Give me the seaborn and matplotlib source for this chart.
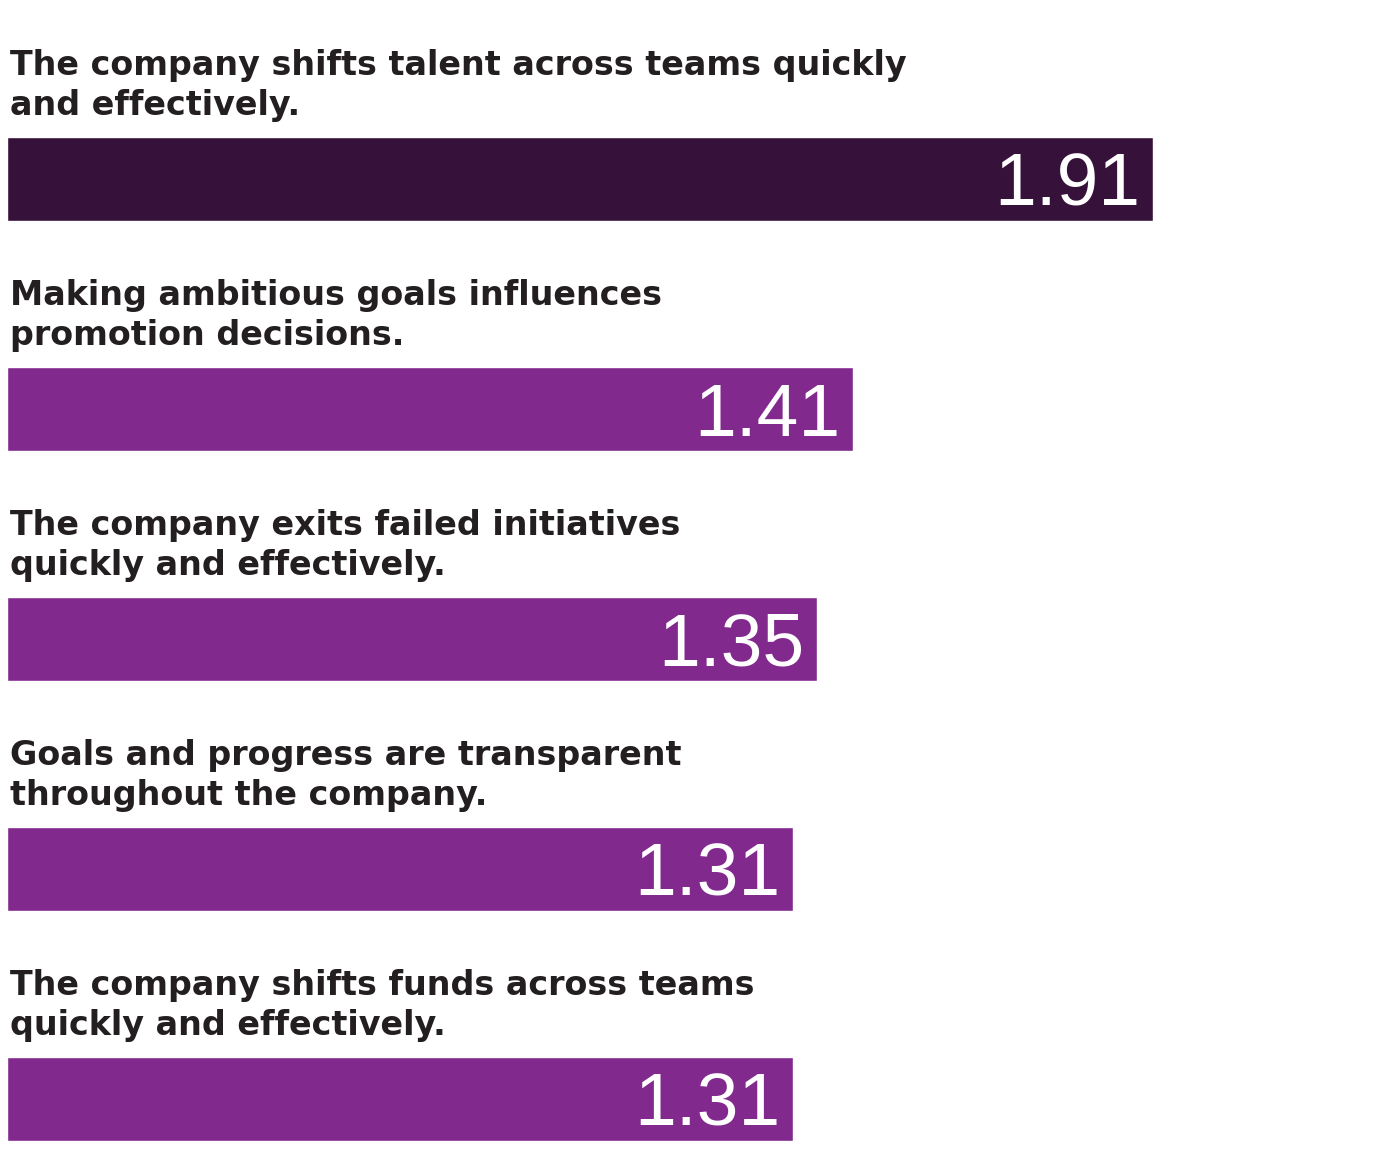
import matplotlib
matplotlib.use("Agg")
import matplotlib.pyplot as plt
import seaborn as sns
import pandas as pd

labels = [
    "The company shifts talent across teams quickly\nand effectively.",
    "Making ambitious goals influences\npromotion decisions.",
    "The company exits failed initiatives\nquickly and effectively.",
    "Goals and progress are transparent\nthroughout the company.",
    "The company shifts funds across teams\nquickly and effectively.",
]
values = [1.91, 1.41, 1.35, 1.31, 1.31]
colors = ["#36113A", "#82298E", "#82298E", "#82298E", "#82298E"]
value_labels = ["1.91", "1.41", "1.35", "1.31", "1.31"]

df = pd.DataFrame({"label": labels, "value": values})

sns.set_theme(style="white")
plt.rcParams["font.family"] = ["DejaVu Sans"]

W, H = 1400, 1164
fig = plt.figure(figsize=(W / 100, H / 100), dpi=100)
left_px = 7
px_per_unit = 600.0
ax = fig.add_axes([left_px / W, 0, 1 - left_px / W, 1])

sns.barplot(data=df, y="label", x="value", hue="label", palette=colors,
            legend=False, orient="h", width=84 / 230, saturation=1,
            ax=ax)

ax.set_xlim(0, (W - left_px) / px_per_unit)
c0, step = 179.0, 230.0
ax.set_ylim((H - c0) / step, (0 - c0) / step)
ax.axis("off")

for i, (lab, v, vl) in enumerate(zip(labels, values, value_labels)):
    # va='baseline' aligns the last line's baseline
    ax.text(3 / px_per_unit, i + (115 - c0) / step, lab, ha="left", va="baseline",
            fontsize=24, fontweight="bold", color="#231F20",
            linespacing=1.28)
    ax.text(v - 13 / px_per_unit, i + 27 / step, vl, ha="right", va="baseline",
            fontsize=54, color="white",
            family=["Liberation Sans", "DejaVu Sans"])

fig.savefig("out.png", dpi=100)
